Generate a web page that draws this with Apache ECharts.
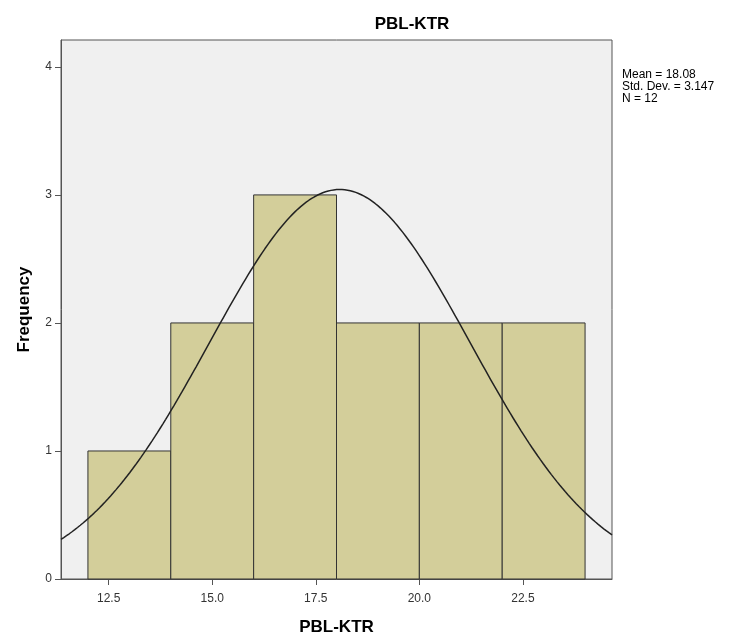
<!DOCTYPE html>
<html>
<head>
<meta charset="utf-8">
<script src="https://cdn.jsdelivr.net/npm/echarts@6/dist/echarts.min.js"></script>
<style>html,body{margin:0;padding:0;background:#fff}#c{width:736px;height:640px}</style>
</head>
<body>
<div id="c"></div>
<script>
var binStarts = [12, 14, 16, 18, 20, 22];
var binWidth = 2;
var counts = [1, 2, 3, 2, 2, 2];
var xTicks = [12.5, 15.0, 17.5, 20.0, 22.5];
var yTicks = [0, 1, 2, 3, 4];
var mean = 18.08, sd = 3.147, n = 12;
var statsLines = ['Mean = 18.08', 'Std. Dev. = 3.147', 'N = 12'];
var xMin = 11.35, xMax = 24.65, yMax = 4.21;

var barData = binStarts.map(function (s, i) { return [s, s + binWidth, counts[i]]; });
var curve = [];
var steps = 200;
for (var k = 0; k <= steps; k++) {
  var x = xMin + (xMax - xMin) * k / steps;
  var z = (x - mean) / sd;
  curve.push([x, n * binWidth * Math.exp(-0.5 * z * z) / (sd * Math.sqrt(2 * Math.PI))]);
}

var chart = echarts.init(document.getElementById('c'));
var font = 'Liberation Sans, Arial, sans-serif';
chart.setOption({
  animation: false,
  backgroundColor: '#ffffff',
  title: {
    text: 'PBL-KTR', left: 407, top: 11, textAlign: 'center',
    textStyle: { fontFamily: font, fontSize: 17, fontWeight: 'bold', color: '#000' }
  },
  graphic: [{
    type: 'text', left: 622, top: 69,
    style: { text: statsLines.join('\n'), fontFamily: font, fontSize: 12, lineHeight: 12, fill: '#000' }
  }],
  grid: { left: 61, top: 40, width: 551, height: 539, show: true, backgroundColor: '#f0f0f0', borderColor: '#555', borderWidth: 1, outerBoundsMode: 'none', containLabel: false },
  xAxis: {
    type: 'value', min: xMin, max: xMax,
    name: 'PBL-KTR', nameLocation: 'middle', nameGap: 40,
    nameTextStyle: { fontFamily: font, fontSize: 17, fontWeight: 'bold', color: '#000' },
    axisLine: { show: true, lineStyle: { color: '#555' } },
    axisTick: { show: true, length: 6, customValues: xTicks, lineStyle: { color: '#555' } },
    axisLabel: { customValues: xTicks, fontFamily: font, fontSize: 12, color: '#333', margin: 14,
      formatter: function (v) { return v.toFixed(1); } },
    splitLine: { show: false }
  },
  yAxis: {
    type: 'value', min: 0, max: yMax,
    name: 'Frequency', nameLocation: 'middle', nameGap: 28, nameRotate: 90,
    nameTextStyle: { fontFamily: font, fontSize: 17, fontWeight: 'bold', color: '#000' },
    axisLine: { show: true, lineStyle: { color: '#555' } },
    axisTick: { show: true, length: 6, customValues: yTicks, lineStyle: { color: '#555' } },
    axisLabel: { customValues: yTicks, fontFamily: font, fontSize: 12, color: '#333', margin: 9 },
    splitLine: { show: false }
  },
  series: [{
    type: 'custom',
    data: barData,
    encode: { x: [0, 1], y: 2 },
    renderItem: function (params, api) {
      var p0 = api.coord([api.value(0), 0]);
      var p1 = api.coord([api.value(1), api.value(2)]);
      return {
        type: 'rect',
        shape: { x: p0[0], y: p1[1], width: p1[0] - p0[0], height: p0[1] - p1[1] },
        style: { fill: '#d3ce9a', stroke: '#333', lineWidth: 1 }
      };
    },
    z: 2
  }, {
    type: 'line', data: curve, showSymbol: false, smooth: false,
    lineStyle: { color: '#222', width: 1.5 }, z: 3, silent: true
  }]
});
</script>
</body>
</html>
